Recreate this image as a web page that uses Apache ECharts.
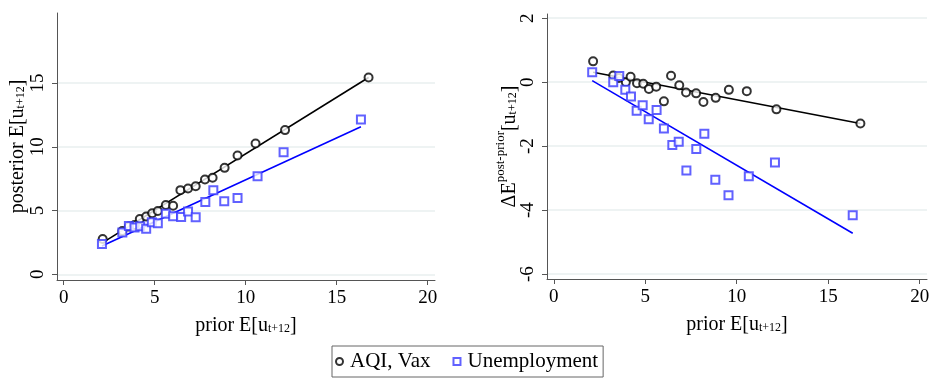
<!DOCTYPE html>
<html>
<head>
<meta charset="utf-8">
<script src="https://cdn.jsdelivr.net/npm/echarts@6/dist/echarts.min.js"></script>
<style>
html,body{margin:0;padding:0;background:#fff;}
#c{width:933px;height:379px;}
</style>
</head>
<body>
<div id="c"></div>
<script>
// ---- data ----
const leftAqiX = [2.14,3.22,3.58,3.89,4.18,4.53,4.86,5.17,5.61,6.01,6.41,6.83,7.25,7.76,8.18,8.84,9.55,10.54,12.16,16.75];
const leftAqiY = [2.77,3.40,3.74,3.87,4.34,4.53,4.79,4.97,5.44,5.37,6.60,6.73,6.91,7.43,7.57,8.35,9.32,10.26,11.31,15.44];
const leftUnX  = [2.10,3.22,3.58,3.89,4.20,4.53,4.84,5.17,5.61,6.01,6.45,6.83,7.25,7.78,8.22,8.82,9.55,10.65,12.08,16.33];
const leftUnY  = [2.38,3.27,3.79,3.66,3.77,3.58,4.08,4.00,4.74,4.56,4.50,4.92,4.48,5.68,6.60,5.73,5.99,7.70,9.58,12.14];

const rightAqiX = [2.15,3.25,3.56,3.94,4.20,4.55,4.89,5.20,5.60,6.02,6.41,6.86,7.23,7.78,8.18,8.85,9.57,10.55,12.17,16.76];
const rightAqiY = [0.65,0.21,0.13,0.00,0.17,-0.03,-0.05,-0.21,-0.14,-0.60,0.20,-0.10,-0.32,-0.35,-0.62,-0.49,-0.24,-0.28,-0.85,-1.29];
const rightUnX  = [2.10,3.25,3.58,3.91,4.22,4.53,4.86,5.19,5.62,6.02,6.48,6.83,7.25,7.79,8.23,8.83,9.55,10.66,12.09,16.34];
const rightUnY  = [0.31,0.00,0.19,-0.24,-0.45,-0.89,-0.72,-1.16,-0.87,-1.45,-1.96,-1.86,-2.76,-2.09,-1.61,-3.05,-3.53,-2.94,-2.51,-4.16];

// fitted-line endpoints
const leftAqiFitX = [2.14,16.75],  leftAqiFitY = [2.48,15.44];
const leftUnFitX  = [2.10,16.33],  leftUnFitY  = [2.22,11.57];
const rightAqiFitX = [2.15,16.76], rightAqiFitY = [0.31,-1.29];
const rightUnFitX  = [2.10,16.34], rightUnFitY  = [0.05,-4.72];

const xTicks = [0,5,10,15,20];
const leftYTicks = [0,5,10,15];
const rightYTicks = [-6,-4,-2,0,2];

const seriesNames = ['AQI, Vax','Unemployment'];

// ---- chart ----
const zip = (a,b) => a.map((v,i)=>[v,b[i]]);
const FONT = 'Liberation Serif';
const BLACK = '#000000';
const BLUE = '#0000ff';
const SQ = '#3a3aff';
const AXIS = '#555555';

const subStyle = {fontFamily:FONT,fontSize:12,color:'#000',lineHeight:24,verticalAlign:'bottom',padding:[0,0,3,0]};
const mainStyle = {fontFamily:FONT,fontSize:20,color:'#000',lineHeight:24};

function xAxis(idx){
  return {
    type:'value', gridIndex: idx, min:-0.37, max:20.4,
    name:'{a|prior E[u}{s|t+12}{a|]}', nameLocation:'middle', nameGap:34, nameMoveOverlap:false,
    nameTextStyle:{rich:{a:mainStyle, s:subStyle}},
    axisLine:{show:true,onZero:false,lineStyle:{color:AXIS,width:1}},
    axisTick:{show:true,length:5,customValues:xTicks,lineStyle:{color:AXIS}},
    axisLabel:{customValues:xTicks,fontFamily:FONT,fontSize:19,color:'#000',margin:9},
    splitLine:{show:false}
  };
}
function yAxis(idx, min, max, ticks, name, rich, gap){
  return {
    type:'value', gridIndex: idx, min:min, max:max,
    name:name, nameLocation:'middle', nameRotate:90, nameGap:gap, nameMoveOverlap:false,
    nameTextStyle:{rich:rich},
    axisLine:{show:true,onZero:false,lineStyle:{color:AXIS,width:1}},
    axisTick:{show:true,length:5,customValues:ticks,lineStyle:{color:AXIS}},
    axisLabel:{customValues:ticks,rotate:90,fontFamily:FONT,fontSize:19,color:'#000',margin:9},
    splitLine:{show:true,lineStyle:{color:'#eef3f3',width:2}}
  };
}

const leftRich = {a:mainStyle, s:subStyle};
const rightRich = {
  a:mainStyle,
  p:{fontFamily:FONT,fontSize:13,color:'#000',lineHeight:24,verticalAlign:'top',padding:[-4,0,0,0]},
  s:subStyle
};

function scatter(name, xi, yi, x, y, symbol, color){
  return {
    name:name, type:'scatter', xAxisIndex:xi, yAxisIndex:yi,
    symbol:symbol, symbolSize:8,
    itemStyle:{color:color,borderColor:color,borderWidth:0.8},
    data: zip(x,y), z:3
  };
}
function fit(xi, yi, x, y, color){
  return {
    type:'line', xAxisIndex:xi, yAxisIndex:yi, showSymbol:false, symbol:'none',
    lineStyle:{color:color,width:1.6}, data: zip(x,y), z:2, silent:true
  };
}

const chart = echarts.init(document.getElementById('c'), null, {renderer:'canvas'});
chart.setOption({
  animation:false,
  backgroundColor:'#fff',
  grid:[
    {left:57, top:13, width:378, height:267},
    {left:547, top:14, width:380, height:265}
  ],
  xAxis:[xAxis(0), xAxis(1)],
  yAxis:[
    yAxis(0,-0.45,20.5,leftYTicks,'{a|posterior E[u}{s|t+12}{a|]}',leftRich,27),
    yAxis(1,-6.15,2.13,rightYTicks,'{a|ΔE}{p|post-prior}{a|[u}{s|t+12}{a|]}',rightRich,25)
  ],
  legend:{
    left:332, top:346, orient:'horizontal',
    data:[{name:seriesNames[0],icon:'emptyCircle'},{name:seriesNames[1],icon:'emptyRect'}],
    itemWidth:7, itemHeight:7, itemGap:22,
    itemStyle:{borderWidth:1},
    borderColor:'#666', borderWidth:1, padding:[5,5,5,3],
    textStyle:{fontFamily:FONT,fontSize:21,color:'#000',padding:[0,0,0,2]}
  },
  series:[
    fit(0,0,leftAqiFitX,leftAqiFitY,BLACK),
    fit(0,0,leftUnFitX,leftUnFitY,BLUE),
    scatter(seriesNames[0],0,0,leftAqiX,leftAqiY,'emptyCircle',BLACK),
    scatter(seriesNames[1],0,0,leftUnX,leftUnY,'emptyRect',SQ),
    fit(1,1,rightAqiFitX,rightAqiFitY,BLACK),
    fit(1,1,rightUnFitX,rightUnFitY,BLUE),
    scatter(seriesNames[0],1,1,rightAqiX,rightAqiY,'emptyCircle',BLACK),
    scatter(seriesNames[1],1,1,rightUnX,rightUnY,'emptyRect',SQ)
  ]
});
</script>
</body>
</html>
